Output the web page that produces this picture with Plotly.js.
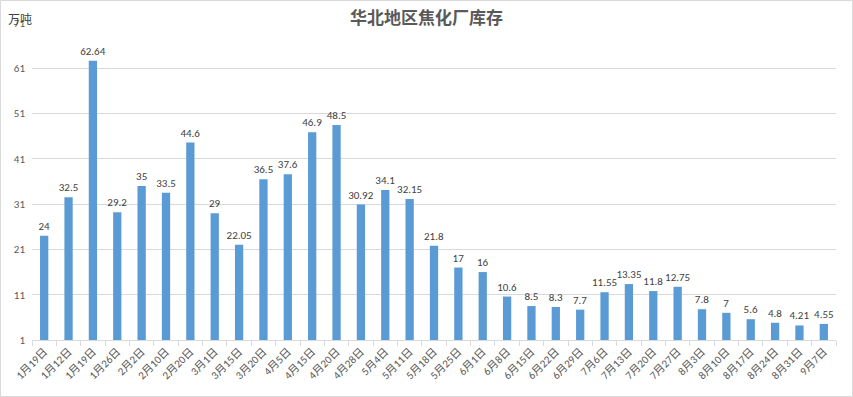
<!DOCTYPE html>
<html>
<head>
<meta charset="utf-8">
<script src="https://cdn.plot.ly/plotly-3.0.1.min.js"></script>
<style>html,body{margin:0;padding:0;background:#fff;}#chart{width:853px;height:397px;}</style>
</head>
<body>
<div id="chart"></div>
<script>
const categories = ["1月19日","1月12日","1月19日","1月26日","2月2日","2月10日","2月20日","3月1日","3月15日","3月20日","4月5日","4月15日","4月20日","4月28日","5月4日","5月11日","5月18日","5月25日","6月1日","6月8日","6月15日","6月22日","6月29日","7月6日","7月13日","7月20日","7月27日","8月3日","8月10日","8月17日","8月24日","8月31日","9月7日"];
const inventory = [24,32.5,62.64,29.2,35,33.5,44.6,29,22.05,36.5,37.6,46.9,48.5,30.92,34.1,32.15,21.8,17,16,10.6,8.5,8.3,7.7,11.55,13.35,11.8,12.75,7.8,7,5.6,4.8,4.21,4.55];
const yTicks = [1,11,21,31,41,51,61,71];
const titleText = "华北地区焦化厂库存";
const unitText = "万吨";

const idx = categories.map((c,i)=>i);
const boundaries = categories.concat(['']).map((c,i)=>i - 0.5);
const font = "Calibri, Carlito, 'Noto Sans CJK SC', 'Liberation Sans', sans-serif";

const W = 853, H = 397, L = 32, R = 17, T = 23, B = 57;
const pw = W - L - R, ph = H - T - B;

const trace = {
  type: 'bar',
  x: idx,
  y: inventory,
  marker: {color: '#5b9bd5'},
  text: inventory.map(v => String(v)),
  textposition: 'outside',
  constraintext: 'none',
  textfont: {family: font, size: 11, color: '#404040'},
  cliponaxis: false,
  hoverinfo: 'none'
};

const layout = {
  width: W, height: H,
  margin: {l: L, r: R, t: T, b: B, pad: 0},
  paper_bgcolor: '#fff', plot_bgcolor: '#fff',
  bargap: 0.66,
  showlegend: false,
  title: {
    text: '<b>' + titleText + '</b>',
    font: {family: "'Noto Sans CJK SC', sans-serif", size: 17, color: '#595959'},
    x: 0.5, xref: 'container', y: 1 - 18/H, yref: 'container', yanchor: 'middle'
  },
  xaxis: {
    range: [-0.5, categories.length - 0.5],
    tickmode: 'array', tickvals: idx, ticktext: categories,
    tickangle: -45,
    tickfont: {family: font, size: 11, color: '#595959'},
    ticks: '', showgrid: false,
    showline: true, linecolor: '#d9d9d9', linewidth: 1,
    zeroline: false,
    fixedrange: true
  },
  xaxis2: {
    overlaying: 'x', side: 'bottom', anchor: 'y',
    range: [-0.5, categories.length - 0.5],
    tickmode: 'array', tickvals: boundaries,
    showticklabels: false,
    ticks: 'outside', ticklen: 5, tickcolor: '#d9d9d9', tickwidth: 1,
    showgrid: false, zeroline: false, showline: false,
    fixedrange: true
  },
  yaxis: {
    range: [1, 71],
    tickmode: 'array', tickvals: yTicks, ticktext: yTicks.map(String),
    tickfont: {family: font, size: 11, color: '#595959'},
    showgrid: true, gridcolor: '#d9d9d9', gridwidth: 1,
    zeroline: false, showline: false, ticks: '',
    ticklabelstandoff: 6,
    fixedrange: true
  },
  annotations: [{
    text: unitText, xref: 'paper', yref: 'paper',
    x: (6 - L)/pw, y: (H - B - 18)/ph, xanchor: 'left', yanchor: 'middle',
    showarrow: false,
    font: {family: "'Noto Sans CJK SC', sans-serif", size: 12, color: '#404040'}
  }],
  shapes: [{
    type: 'rect', xref: 'paper', yref: 'paper',
    x0: (0.5 - L)/pw, x1: (W - 0.5 - L)/pw,
    y0: (H - B - (H - 0.5))/ph, y1: (H - B - 0.5)/ph,
    line: {color: '#d9d9d9', width: 1}, fillcolor: 'rgba(0,0,0,0)', layer: 'below'
  }]
};

const tickTrace = {type: 'scatter', x: [], y: [], xaxis: 'x2', yaxis: 'y', hoverinfo: 'none', showlegend: false};

Plotly.newPlot('chart', [trace, tickTrace], layout, {displayModeBar: false, staticPlot: true});
</script>
</body>
</html>
